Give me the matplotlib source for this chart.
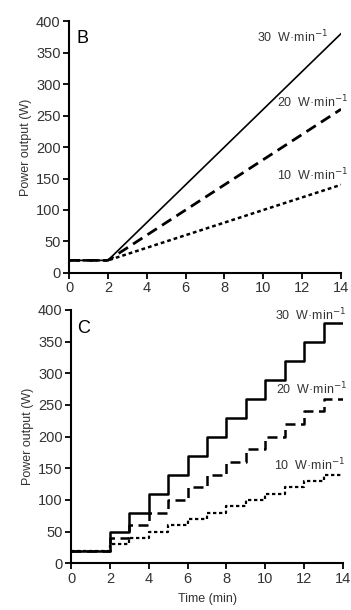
import matplotlib
matplotlib.use("Agg")
import matplotlib.pyplot as plt

plt.rcParams['font.family'] = ['Liberation Sans', 'DejaVu Sans']

# panel B: linear ramps (time, power) - baseline 20 W then ramp from min 2
ramp_time = [0, 2, 14]
ramp_30 = [20, 20, 380]
ramp_20 = [20, 20, 260]
ramp_10 = [20, 20, 140]

# panel C: step ramps, value held from each time to the next
step_time = [0, 2, 3, 4, 5, 6, 7, 8, 9, 10, 11, 12, 13, 14]
step_30 = [20, 50, 80, 110, 140, 170, 200, 230, 260, 290, 320, 350, 380, 380]
step_20 = [20, 40, 60, 80, 100, 120, 140, 160, 180, 200, 220, 240, 260, 260]
step_10 = [20, 30, 40, 50, 60, 70, 80, 90, 100, 110, 120, 130, 140, 140]

labels = ['30  W\u00b7min$^{-1}$', '20  W\u00b7min$^{-1}$', '10  W\u00b7min$^{-1}$']
xticks = [0, 2, 4, 6, 8, 10, 12, 14]
yticks = [0, 50, 100, 150, 200, 250, 300, 350, 400]

fig = plt.figure(figsize=(3.51, 6.10), dpi=100)
axB = fig.add_axes([0.1966, 0.5525, 0.775, 0.413])
axC = fig.add_axes([0.2023, 0.0766, 0.775, 0.4153])

solid = dict(color='black', lw=1.2, linestyle='-')
dash = dict(color='black', lw=2.0, linestyle=(0, (4, 2.2)))
dot = dict(color='black', lw=1.8, linestyle=(0, (1.5, 1.2)))

axB.plot(ramp_time, ramp_30, **solid)
axB.plot(ramp_time, ramp_20, **dash)
axB.plot(ramp_time, ramp_10, **dot)

axC.step(step_time, step_30, where='post', color='black', lw=1.8)
axC.step(step_time, step_20, where='post', color='black', lw=1.8, linestyle=(0, (4, 2.2)))
axC.step(step_time, step_10, where='post', color='black', lw=1.6, linestyle=(0, (1.5, 1.2)))

for ax in (axB, axC):
    ax.set_xlim(0, 14)
    ax.set_ylim(0, 400)
    ax.set_xticks(xticks)
    ax.set_yticks(yticks)
    for s in ('top', 'right'):
        ax.spines[s].set_visible(False)
    for s in ('left', 'bottom'):
        ax.spines[s].set_linewidth(1.5)
    ax.tick_params(direction='out', length=4, width=1.3, labelsize=10.5,
                   colors='black', labelcolor='#333333', pad=2)
    ax.set_ylabel('Power output (W)', fontsize=9, color='#333333', labelpad=3)

axB.text(0.4, 372, 'B', fontsize=13, va='center', ha='left')
axB.text(9.7, 375, labels[0], fontsize=9, va='center', color='#333333')
axB.text(10.7, 272, labels[1], fontsize=9, va='center', color='#333333')
axB.text(10.7, 156, labels[2], fontsize=9, va='center', color='#333333')

axC.text(0.3, 371, 'C', fontsize=13, va='center', ha='left')
axC.text(10.5, 392, labels[0], fontsize=9, va='center', color='#333333', clip_on=False)
axC.text(10.55, 275, labels[1], fontsize=9, va='center', color='#333333')
axC.text(10.45, 155, labels[2], fontsize=9, va='center', color='#333333')
axC.set_xlabel('Time (min)', fontsize=9, color='#333333', labelpad=5)

fig.savefig('out.png', dpi=100)
